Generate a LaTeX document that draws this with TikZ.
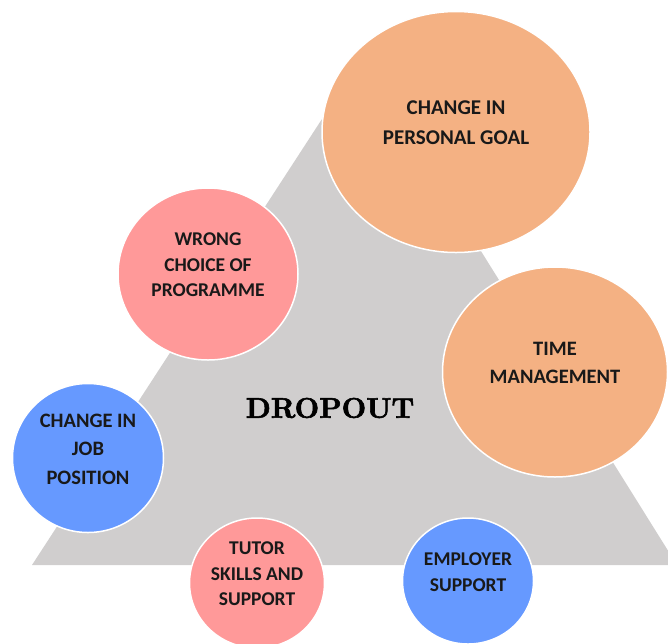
\documentclass[tikz,border=0pt]{standalone}
\usepackage{fontspec}
\setsansfont{Carlito}
\newfontfamily\dropfont[Extension=.otf, FakeBold=2]{lmroman10-bold}
\usepackage{tikz}
\usetikzlibrary{shapes.geometric}
\definecolor{causeorange}{HTML}{F4B183}
\definecolor{causepink}{HTML}{FF9999}
\definecolor{causeblue}{HTML}{6699FF}
\definecolor{trigray}{HTML}{D0CECE}

\begin{document}
\begin{tikzpicture}[x=1pt, y=-1pt,
  cause/.style={ellipse, draw=white, line width=1.5pt, inner sep=0pt,
                align=center, text=black!90, text depth=18pt},
  big/.style={font=\sffamily\bfseries\fontsize{21}{30}\selectfont},
  mid/.style={font=\sffamily\bfseries\fontsize{20.5}{28.5}\selectfont},
  small/.style={font=\sffamily\bfseries\fontsize{19.5}{25.5}\selectfont}
]
\useasboundingbox (0,0) rectangle (668,643);
\clip (0,0) rectangle (668,643);

% background triangle
\fill[trigray] (32,565) -- (361,59) -- (677,565) -- cycle;

% causes round the triangle
\node[cause, big, fill=causeorange, minimum width=268pt, minimum height=241pt]
  (goal) at (456,132) {CHANGE IN\\PERSONAL GOAL};
\node[cause, small, fill=causepink, minimum width=180pt, minimum height=172pt]
  (choice) at (208,274) {WRONG\\CHOICE OF\\PROGRAMME};
\node[cause, mid, fill=causeorange, minimum width=225pt, minimum height=210pt]
  (time) at (555,372) {TIME\\MANAGEMENT};
\node[cause, mid, fill=causeblue, minimum width=151pt, minimum height=149pt]
  (job) at (88,458) {CHANGE IN\\JOB\\POSITION};
\node[cause, small, fill=causepink, minimum width=135pt, minimum height=130pt]
  (tutor) at (257,583) {TUTOR\\SKILLS AND\\SUPPORT};
\node[cause, small, fill=causeblue, minimum width=131pt, minimum height=126pt]
  (employer) at (468,581) {EMPLOYER\\SUPPORT};

\node[font=\dropfont\fontsize{28.5}{30}\selectfont, text=black] (dropout) at (330,408) {DROPOUT};
\end{tikzpicture}
\end{document}
